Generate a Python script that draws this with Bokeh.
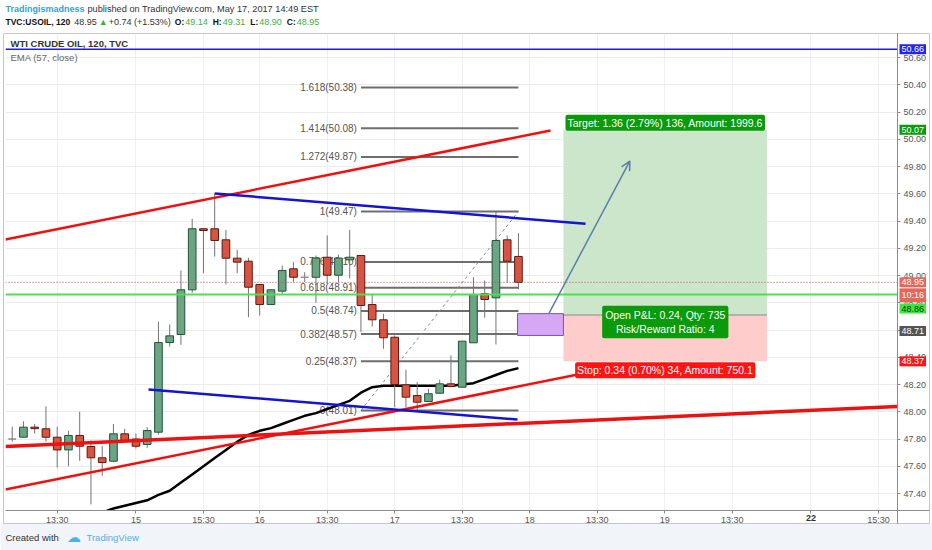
from bokeh.plotting import figure
from bokeh.models import (ColumnDataSource, Label, Range1d, FixedTicker,
                          NumeralTickFormatter, Arrow, OpenHead, LinearAxis)
from bokeh.embed import file_html
from bokeh.resources import INLINE
from bokeh.core.properties import value

# ---------------- data ----------------
bar_open = [47.80, 47.813, 47.887, 47.875, 47.813, 47.72, 47.826, 47.745, 47.662, 47.637,
            47.838, 47.80, 47.76, 47.85, 48.508, 48.567, 48.895, 49.343, 49.343, 49.262,
            49.127, 49.105, 48.934, 48.787, 48.885, 49.049, 48.987, 48.987, 49.134, 49.002,
            49.115, 49.147, 48.787, 48.675, 48.547, 48.198, 48.119, 48.075, 48.136, 48.205,
            48.18, 48.506, 48.866, 48.836, 49.262, 49.14]
bar_high = [47.89, 47.93, 47.91, 48.04, 47.89, 47.86, 48.00, 47.79, 47.75, 47.91,
            47.875, 47.84, 47.887, 48.662, 48.64, 49.037, 49.416, 49.345, 49.604, 49.335,
            49.189, 49.13, 48.934, 48.897, 49.073, 49.098, 49.024, 49.147, 49.294, 49.154,
            49.335, 49.147, 48.866, 48.719, 48.56, 48.308, 48.217, 48.168, 48.235, 48.413,
            48.518, 48.988, 48.963, 49.47, 49.294, 49.31]
bar_low = [47.78, 47.81, 47.84, 47.78, 47.59, 47.60, 47.64, 47.32, 47.53, 47.63,
           47.777, 47.73, 47.735, 47.833, 48.479, 48.491, 48.873, 49.017, 49.139, 48.934,
           49.017, 48.694, 48.706, 48.787, 48.866, 48.951, 48.951, 48.80, 48.939, 48.949,
           48.978, 48.584, 48.626, 48.462, 48.033, 48.033, 48.01, 48.075, 48.136, 48.18,
           48.18, 48.506, 48.69, 48.494, 48.946, 48.90]
bar_close = [47.80, 47.887, 47.876, 47.813, 47.72, 47.826, 47.747, 47.662, 47.627, 47.838,
             47.789, 47.747, 47.862, 48.508, 48.557, 48.895, 49.343, 49.33, 49.257, 49.127,
             49.098, 48.914, 48.787, 48.895, 49.037, 48.987, 48.987, 49.128, 49.002, 49.128,
             49.134, 48.78, 48.675, 48.543, 48.20, 48.107, 48.07, 48.132, 48.205, 48.185,
             48.518, 48.861, 48.824, 49.257, 49.105, 48.95]

ema_start = 8
ema_values = [47.26, 47.29, 47.31, 47.33, 47.35, 47.39, 47.42, 47.48, 47.54, 47.60,
              47.66, 47.72, 47.78, 47.83, 47.86, 47.88, 47.91, 47.94, 47.97, 47.99,
              48.02, 48.05, 48.08, 48.14, 48.18, 48.19, 48.19, 48.19, 48.19, 48.19,
              48.19, 48.19, 48.20, 48.21, 48.24, 48.27, 48.30, 48.32]

x_tick_pos = [4, 11, 17, 22, 28, 34, 40, 46, 52, 58, 64, 71, 77]
x_tick_labels = ["13:30", "15", "15:30", "16", "13:30", "17", "13:30", "18",
                 "13:30", "19", "13:30", "22", "15:30"]
week_start_ticks = [71]          # drawn in bold, as on TradingView
price_ticks = [47.40, 47.60, 47.80, 48.00, 48.20, 48.40, 48.60, 48.80, 49.00,
               49.20, 49.40, 49.60, 49.80, 50.00, 50.20, 50.40, 50.60]

# Fibonacci retracement
fib_levels = [0, 0.25, 0.382, 0.5, 0.618, 0.786, 1, 1.272, 1.414, 1.618]
fib_prices = [48.01, 48.37, 48.57, 48.74, 48.91, 49.10, 49.47, 49.87, 50.08, 50.38]
fib_bars = [31, 45]

# trend lines: (x0, y0, x1, y1) in bars / price
red_lines = [(-0.6, 49.264, 47.85, 50.064),
             (-0.6, 47.429, 50.5, 48.277)]
red_long_line = (-0.6, 47.745, 78.7, 48.039)
blue_lines = [(18.0, 49.602, 50.96, 49.38),
              (12.12, 48.163, 44.92, 47.943)]
blue_hline = 50.66
green_hline = 48.86
last_price = 48.95
day_change, day_change_pct = 0.74, 1.53

# long position tool
pos_bars = [49.0, 67.1]
entry, target, stop = 48.71, 50.07, 48.37
qty = 735
target_amount, stop_amount = 1999.6, 750.1
rect_bars = [44.92, 49.0]
rect_prices = [48.56, 48.72]
arrow_pts = [(47.7, 48.72), (54.9, 49.84)]

# ---------------- layout (canvas pixels <-> data) ----------------
W, H = 932, 550
PX_PER_BAR, BAR0_PX = 11.25, 11.7
PX_PER_USD, P_REF, P_REF_PX = 136.25, 50.60, 57.0


def dx(px):
    return (px - BAR0_PX) / PX_PER_BAR


def dy(py):
    return P_REF - (py - P_REF_PX) / PX_PER_USD


X0, X1 = dx(0), dx(W)
Y0, Y1 = dy(H), dy(0)
CX0, CX1 = dx(5), dx(897)      # chart pane
CY0, CY1 = dy(510), dy(33)
BOX_L, BOX_R, BOX_B = dx(3), dx(929), dy(523)

p = figure(width=W, height=H, output_backend="svg", toolbar_location=None,
           x_range=Range1d(X0, X1), y_range=Range1d(Y0, Y1),
           y_axis_location="right", min_border=0, min_border_left=0,
           min_border_right=0, min_border_top=0, min_border_bottom=0)
p.background_fill_color = "white"
p.border_fill_color = "white"
p.outline_line_color = None

FONT = "Liberation Sans"
p.yaxis.ticker = FixedTicker(ticks=price_ticks)
p.yaxis.formatter = NumeralTickFormatter(format="0.00")
p.yaxis.fixed_location = CX1
p.yaxis.bounds = (BOX_B, CY1)
p.yaxis.major_label_standoff = 3

normal_ticks = [t for t in x_tick_pos if t not in week_start_ticks]
p.xaxis.ticker = FixedTicker(ticks=normal_ticks)
p.xaxis.major_label_overrides = {t: l for t, l in zip(x_tick_pos, x_tick_labels)}
p.xaxis.fixed_location = CY0
p.xaxis.bounds = (CX0, BOX_R)
p.xaxis.major_label_standoff = 1
bold_axis = LinearAxis(ticker=FixedTicker(ticks=week_start_ticks),
                       major_label_overrides={t: l for t, l in zip(x_tick_pos, x_tick_labels)},
                       fixed_location=CY0, axis_line_color=None,
                       major_label_standoff=1, major_label_text_font_style="bold")
p.add_layout(bold_axis, "below")
for ax in (p.xaxis[0], p.yaxis[0], bold_axis):
    ax.major_label_text_font = FONT
    ax.major_label_text_font_size = "9px"
    ax.major_label_text_color = "#555555"
    if ax is not bold_axis:
        ax.axis_line_color = "#8c8c8c"
    ax.major_tick_line_color = "#8c8c8c"
    ax.major_tick_out = 3
    ax.major_tick_in = 0
    ax.minor_tick_line_color = None
bold_axis.major_label_text_color = "#333333"
p.xgrid.ticker = FixedTicker(ticks=x_tick_pos)
p.xgrid.grid_line_color = "#efefef"
p.ygrid.grid_line_color = "#ececec"

# position tool boxes
p.quad(left=[pos_bars[0]], right=[pos_bars[1]], bottom=[entry], top=[target],
       fill_color="#cce6cc", line_color=None)
p.quad(left=[pos_bars[0]], right=[pos_bars[1]], bottom=[stop], top=[entry],
       fill_color="#ffcccc", line_color=None)
p.segment(x0=[pos_bars[0]], y0=[entry], x1=[pos_bars[1]], y1=[entry],
          line_color="#8a8a8a", line_width=1)

# fib
p.segment(x0=[fib_bars[0]] * len(fib_prices), y0=fib_prices,
          x1=[fib_bars[1]] * len(fib_prices), y1=fib_prices,
          line_color="#6e6e6e", line_width=2)
fib_text = [f"{l:g}({v:.2f})" for l, v in zip(fib_levels, fib_prices)]
p.text(x=[fib_bars[0]] * len(fib_prices), y=fib_prices, text=fib_text,
       text_align="right", text_baseline="middle", x_offset=-4,
       text_font=value(FONT), text_font_size="10px", text_color="#555555")
p.line(x=fib_bars, y=[fib_prices[0], fib_prices[6]], line_color="#8a8a8a",
       line_width=1, line_dash="3 3")

# EMA
p.line(x=list(range(ema_start, ema_start + len(ema_values))), y=ema_values,
       line_color="black", line_width=2.5)

# candles
n = len(bar_open)
fills, lines = [], []
for o, c in zip(bar_open, bar_close):
    if c > o:
        fills.append("#6ba583"); lines.append("#225437")
    elif c < o:
        fills.append("#d75442"); lines.append("#5b1a13")
    else:
        fills.append("#8a8a8a"); lines.append("#8a8a8a")
src = ColumnDataSource(dict(x=list(range(n)), h=bar_high, l=bar_low,
                            top=[max(a, b) for a, b in zip(bar_open, bar_close)],
                            bot=[min(a, b) for a, b in zip(bar_open, bar_close)],
                            fill=fills, line=lines))
p.segment(x0="x", y0="h", x1="x", y1="l", source=src, line_color="#737375", line_width=1)
p.vbar(x="x", top="top", bottom="bot", width=0.68, source=src,
       fill_color="fill", line_color="line", line_width=1)

# horizontal lines
p.line(x=[CX0, CX1], y=[last_price, last_price], line_color="#e04040",
       line_width=1, line_dash="1 2")
p.line(x=[CX0, CX1], y=[green_hline, green_hline], line_color="#4fe04f", line_width=2)
p.line(x=[CX0, CX1], y=[blue_hline, blue_hline], line_color="#1c1cf0", line_width=1.5)

# trend lines
for (a, b, c_, d) in red_lines:
    p.line(x=[a, c_], y=[b, d], line_color="#ee1111", line_width=2.5)
p.line(x=[red_long_line[0], red_long_line[2]], y=[red_long_line[1], red_long_line[3]],
       line_color="#ee1111", line_width=3.5)
for (a, b, c_, d) in blue_lines:
    p.line(x=[a, c_], y=[b, d], line_color="#1414d2", line_width=2.5)

# rectangle
p.quad(left=[rect_bars[0]], right=[rect_bars[1]], bottom=[rect_prices[0]],
       top=[rect_prices[1]], fill_color="#d6a7f5", line_color="#7b52b5", line_width=1)

# masks around the chart pane (header, price scale, time scale, footer)
p.quad(left=[X0], right=[X1], bottom=[CY1], top=[Y1], fill_color="white", line_color=None)
p.quad(left=[CX1], right=[X1], bottom=[BOX_B], top=[CY1], fill_color="white", line_color=None)
p.quad(left=[X0], right=[CX0], bottom=[BOX_B], top=[CY1], fill_color="white", line_color=None)
p.quad(left=[X0], right=[X1], bottom=[BOX_B], top=[CY0], fill_color="white", line_color=None)
p.quad(left=[X0], right=[X1], bottom=[Y0], top=[BOX_B], fill_color="#f1f4f8", line_color=None)
p.quad(left=[BOX_L], right=[BOX_R], bottom=[BOX_B], top=[CY1], fill_color=None,
       line_color="#c4c7cc", line_width=1)

p.add_layout(Arrow(end=OpenHead(size=9, line_color="#5b7fa8", line_width=1.5),
                   x_start=arrow_pts[0][0], y_start=arrow_pts[0][1],
                   x_end=arrow_pts[1][0], y_end=arrow_pts[1][1],
                   line_color="#5b7fa8", line_width=1.5))

# position tool labels
mid = (pos_bars[0] + pos_bars[1]) / 2
tgt = target - entry
stp = entry - stop
p.add_layout(Label(x=mid, y=target, y_offset=7, text_align="center", text_baseline="middle",
                   text=f"Target: {tgt:.2f} ({tgt / entry * 100:.2f}%) {round(tgt * 100)}, Amount: {target_amount}",
                   text_font=FONT, text_font_size="10.5px", text_color="white",
                   background_fill_color="#0a9a0a", padding=2, border_radius=2))
p.add_layout(Label(x=mid, y=entry, y_offset=-7, text_align="center", text_baseline="middle",
                   text=f"Open P&L: {last_price - entry:.2f}, Qty: {qty}\nRisk/Reward Ratio: {tgt / stp:g}",
                   text_font=FONT, text_font_size="10.5px", text_color="white",
                   background_fill_color="#0a9a0a", padding=3, border_radius=2))
p.add_layout(Label(x=mid, y=stop, y_offset=-9, text_align="center", text_baseline="middle",
                   text=f"Stop: {stp:.2f} ({stp / entry * 100:.2f}%) {round(stp * 100)}, Amount: {stop_amount}",
                   text_font=FONT, text_font_size="10.5px", text_color="white",
                   background_fill_color="#ff1414", padding=2, border_radius=2))

# price tags on the price scale
tags = [(blue_hline, f"{blue_hline:.2f}", "#2323ee", "white", 0),
        (target, f"{target:.2f}", "#0a9a0a", "white", 0),
        (last_price, f"{last_price:.2f}", "#e4675a", "white", 0),
        (last_price, "10:16", "#e4675a", "white", -13),
        (green_hline, f"{green_hline:.2f}", "#3ee83e", "#0b3d0b", -14),
        (entry, f"{entry:.2f}", "#555555", "white", -16),
        (stop, f"{stop:.2f}", "#ff1414", "white", 0)]
for yv, t, bg, fg, off in tags:
    p.add_layout(Label(x=dx(899), y=yv, y_offset=off, text=t, text_baseline="middle",
                       text_font=FONT, text_font_size="9px", text_color=fg,
                       background_fill_color=bg, padding=2))


# header / footer texts at canvas pixel positions
def txt(text, px, py, color="#333333", style="normal", size=9.0):
    p.add_layout(Label(x=dx(px), y=dy(py), text=text, text_baseline="middle",
                       text_font=FONT, text_font_size=f"{size}px", text_color=color,
                       text_font_style=style))


# approximate advance widths (1/1000 em) of the sans font, to chain header pieces
W_REG = {" ": 278, "%": 889, "(": 333, ")": 333, "+": 584, ",": 278, ".": 278, ":": 278}
W_BOLD = {" ": 278, ":": 333, ",": 278, ".": 278, "A": 722, "C": 722, "H": 722, "I": 278,
          "L": 611, "O": 778, "S": 667, "T": 611, "U": 722, "V": 667}


def text_width(s, size, bold=False):
    table = W_BOLD if bold else W_REG
    total = 0
    for ch in s:
        if ch.isdigit():
            total += 556
        else:
            total += table.get(ch, 600)
    return total * size / 1000.0


txt("Tradingismadness", 5, 8, color="#37a0d6", style="bold", size=9.0)
txt("published on TradingView.com, May 17, 2017 14:49 EST", 87, 8, size=9.2)

line2 = [("TVC:USOIL, 120", True, "#111111", 4),
         (f"{bar_close[-1]:.2f}", False, "#333333", 2),
         ("\u25B2", False, "#3cb043", 3),
         (f"+{day_change:.2f} (+{day_change_pct:.2f}%)", False, "#333333", 4),
         ("O:", True, "#111111", 1),
         (f"{bar_open[-1]:.2f}", False, "#3cb043", 5),
         ("H:", True, "#111111", 1),
         (f"{bar_high[-1]:.2f}", False, "#3cb043", 5),
         ("L:", True, "#111111", 1),
         (f"{bar_low[-1]:.2f}", False, "#3cb043", 5),
         ("C:", True, "#111111", 1),
         (f"{bar_close[-1]:.2f}", False, "#3cb043", 0)]
cur = 5.0
for s, bold, col, gap in line2:
    size = 8.5 if bold else 9.0
    txt(s, cur, 21, color=col, style="bold" if bold else "normal", size=size)
    w = 7.0 if s == "\u25B2" else text_width(s, size, bold)
    cur += w + gap

txt("WTI CRUDE OIL, 120, TVC", 10, 43, style="bold", color="#333333", size=9.5)
txt("EMA (57, close)", 10, 57, color="#666666", size=9.5)
txt("Created with", 5, 537, color="#333333", size=9.5)
txt("\u2601", 66, 536, color="#4db0e6", size=14)
txt("TradingView", 86, 537, color="#4db0e6", size=9.5)

open("out.html", "w").write(file_html(p, INLINE))
